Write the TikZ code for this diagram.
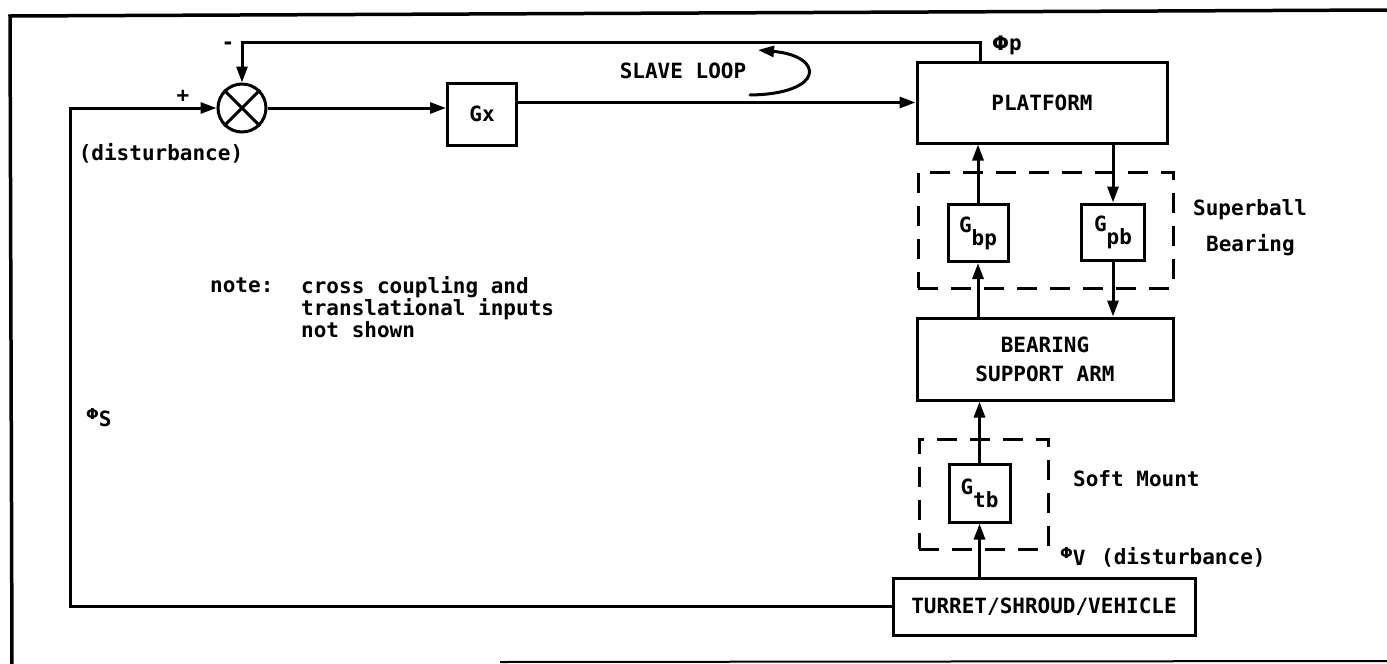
\documentclass[tikz,border=0pt]{standalone}
\usepackage{fontspec}
\setmainfont{DejaVu Sans Mono}
\newfontfamily\phifont{DejaVu Sans}
\usetikzlibrary{arrows.meta}
\begin{document}
\begin{tikzpicture}[x=1pt,y=-1pt,
  every node/.style={font=\fontsize{21pt}{29pt}\selectfont\bfseries, inner sep=0pt},
  blk/.style={draw, line width=3pt, align=center},
  dbox/.style={draw, line width=3pt, dash pattern=on 20pt off 13pt},
  lnk/.style={line width=3pt},
  arr/.style={lnk, -{Triangle[length=16pt,width=11pt]}},
  lbl/.style={anchor=west}]
\useasboundingbox (0,0) rectangle (1387,664);
% frame
\draw[line width=3.5pt] (1387,10) -- (10,16) -- (12,664);
\draw[line width=2pt] (500,662) -- (1387,661);
% blocks
\node[circle, draw, line width=3pt, minimum size=48pt] (sum) at (242,108) {};
\draw[lnk] (sum.north west) -- (sum.south east);
\draw[lnk] (sum.north east) -- (sum.south west);
\node[blk, minimum width=69pt, minimum height=62pt] (gx) at (482,114) {Gx};
\node[blk, minimum width=250pt, minimum height=81pt] (plat) at (1042,102.5) {PLATFORM};
\node[dbox, minimum width=255pt, minimum height=116pt] (sbb) at (1045.5,230) {};
\node[blk, minimum width=60pt, minimum height=57pt] (gbp) at (978,233) {G\raisebox{-13pt}{bp}};
\node[blk, minimum width=63pt, minimum height=56pt] (gpb) at (1113,232) {G\raisebox{-13pt}{pb}};
\node[blk, minimum width=256pt, minimum height=82pt] (bsa) at (1045,359) {BEARING\\SUPPORT ARM};
\node[dbox, minimum width=129pt, minimum height=110pt] (smb) at (983.5,494) {};
\node[blk, minimum width=61pt, minimum height=58pt] (gtb) at (979.5,493) {G\raisebox{-13pt}{tb}};
\node[blk, minimum width=302pt, minimum height=57pt] (tur) at (1044,606.5) {TURRET/SHROUD/VEHICLE};
% coordinates
\coordinate (fbtop) at (980,42);
\coordinate (lc) at (70,400);
\coordinate (slA) at (750,95);
\coordinate (slB) at (758,50);
% connectors
\draw[arr] (sum.east) -- (sum.east -| gx.west);
\draw[arr] (gx.east |- plat.west) -- (plat.west);
\draw[arr] (plat.north -| fbtop) -- (fbtop) -| (sum.north);
\draw[arr] (tur.west) -| (lc) |- (sum.west);
\draw[arr] (gbp.north) -- (gbp.north |- plat.south);
\draw[arr] (bsa.north -| gbp) -- (gbp.south);
\draw[arr] (plat.south -| gpb) -- (gpb.north);
\draw[arr] (gpb.south) -- (gpb.south |- bsa.north);
\draw[arr] (gtb.north) -- (gtb.north |- bsa.south);
\draw[arr] (tur.north -| gtb) -- (gtb.south);
\draw[arr, line cap=round] (slA) .. controls (825,94) and (825,56) .. (slB);
% labels
\node (minus) at (228,46) {-};
\node (plus) at (183,96) {+};
\node (dist1) at (161,153) {(disturbance)};
\node (slave) at (683,71) {SLAVE LOOP};
\node[lbl] (phip) at (992,45) {{\phifont\fontsize{20pt}{20pt}\selectfont Φ}p};
\node[lbl] (sup) at (1193,210) {Superball};
\node[lbl] (bea) at (1206,245) {Bearing};
\node[lbl] (soft) at (1073,479) {Soft Mount};
\node[lbl] (phiv) at (1060,557) {{\phifont\fontsize{15pt}{16pt}\selectfont Φ}\raisebox{-7pt}{V}};
\node[lbl] (dist2) at (1101,557) {(disturbance)};
\node[lbl] (phis) at (86,418) {{\phifont\fontsize{15pt}{16pt}\selectfont Φ}\raisebox{-7pt}{S}};
\node[lbl] (note) at (210,285) {note:};
\node[lbl, align=left, font=\fontsize{21pt}{22pt}\selectfont\bfseries] (notetxt) at (301,307) {cross coupling and\\translational inputs\\not shown};
\end{tikzpicture}
\end{document}
